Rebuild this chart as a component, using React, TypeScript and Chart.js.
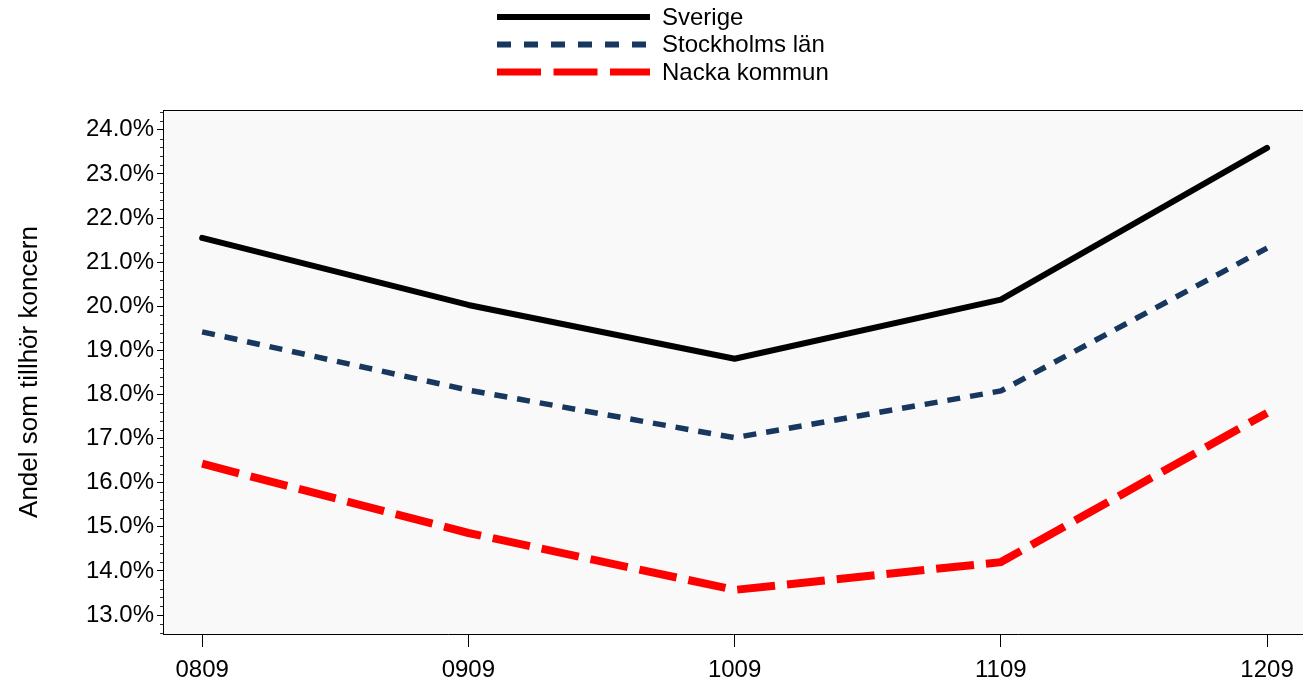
import React, { useEffect, useRef } from "react";
import { Chart, registerables } from "chart.js";

Chart.register(...registerables);

const categories = ["0809", "0909", "1009", "1109", "1209"];
const sverige = [21.55, 20.03, 18.81, 20.15, 23.59];
const stockholm = [19.42, 18.1, 17.02, 18.08, 21.32];
const nacka = [16.43, 14.86, 13.57, 14.2, 17.58];
const yTicks = [13, 14, 15, 16, 17, 18, 19, 20, 21, 22, 23, 24];
const seriesNames = ["Sverige", "Stockholms län", "Nacka kommun"];

const FONT = "'Liberation Sans', Arial, sans-serif";

const bgPlugin = {
  id: "plotBg",
  beforeDraw(chart: any) {
    const { ctx, chartArea } = chart;
    ctx.save();
    ctx.fillStyle = "#f9f9f9";
    ctx.fillRect(chartArea.left, chartArea.top, chartArea.right - chartArea.left, chartArea.bottom - chartArea.top);
    ctx.restore();
  },
  afterDraw(chart: any) {
    const { ctx, chartArea } = chart;
    ctx.save();
    ctx.strokeStyle = "#000";
    ctx.lineWidth = 1;
    ctx.beginPath();
    ctx.moveTo(chartArea.left, chartArea.top + 0.5);
    ctx.lineTo(chartArea.right, chartArea.top + 0.5);
    ctx.stroke();
    const y = chart.scales.y;
    ctx.strokeStyle = "#333";
    for (let i = Math.ceil(y.min * 5); i <= Math.floor(y.max * 5); i++) {
      if (i % 5 === 0) continue;
      const py = Math.round(y.getPixelForValue(i / 5)) + 0.5;
      ctx.beginPath();
      ctx.moveTo(chartArea.left - 3, py);
      ctx.lineTo(chartArea.left, py);
      ctx.stroke();
    }
    const x0 = 497;
    const x1 = 650;
    chart.data.datasets.forEach((ds: any, i: number) => {
      const ly = 17 + 27.5 * i;
      ctx.strokeStyle = ds.borderColor;
      ctx.lineWidth = ds.legendWidth;
      ctx.setLineDash(ds.legendDash || []);
      ctx.lineCap = "butt";
      ctx.beginPath();
      ctx.moveTo(x0, ly);
      ctx.lineTo(x1, ly);
      ctx.stroke();
      ctx.setLineDash([]);
      ctx.fillStyle = "#000";
      ctx.font = `24px ${FONT}`;
      ctx.textBaseline = "middle";
      ctx.textAlign = "left";
      ctx.fillText(ds.label, 662, ly + 1);
    });
    ctx.restore();
  },
};

export default function App() {
  const ref = useRef<HTMLCanvasElement>(null);
  useEffect(() => {
    document.body.style.margin = "0";
    const toPts = (arr: number[]) => arr.map((v, i) => ({ x: i, y: v }));
    const chart = new Chart(ref.current!, {
      type: "line",
      data: {
        datasets: [
          {
            label: seriesNames[0],
            data: toPts(sverige),
            borderColor: "#000000",
            borderWidth: 6,
            borderCapStyle: "round",
            borderJoinStyle: "round",
            pointRadius: 0,
            tension: 0,
            legendDash: [],
            legendWidth: 6,
          } as any,
          {
            label: seriesNames[1],
            data: toPts(stockholm),
            borderColor: "#17375e",
            borderWidth: 5.5,
            borderDash: [13, 10],
            borderCapStyle: "butt",
            pointRadius: 0,
            tension: 0,
            legendDash: [14, 13],
            legendWidth: 6,
          } as any,
          {
            label: seriesNames[2],
            data: toPts(nacka),
            borderColor: "#ff0000",
            borderWidth: 8,
            borderDash: [38, 12],
            borderCapStyle: "butt",
            pointRadius: 0,
            tension: 0,
            legendDash: [44, 12.5],
            legendWidth: 7,
          } as any,
        ],
      },
      options: {
        responsive: false,
        animation: false,
        layout: { padding: { top: 110, left: 0, right: 0, bottom: 0 } },
        plugins: { legend: { display: false }, tooltip: { enabled: false } },
        scales: {
          x: {
            type: "linear",
            min: -0.147,
            max: 4.135,
            afterBuildTicks: (s: any) => {
              s.ticks = categories.map((_, i) => ({ value: i }));
            },
            afterFit: (s: any) => {
              s.height = 53;
            },
            ticks: {
              callback: (v: any) => categories[v] ?? "",
              color: "#000",
              font: { family: FONT, size: 24 },
              padding: 9,
              maxRotation: 0,
            },
            grid: { drawOnChartArea: false, drawTicks: true, tickLength: 13, color: "#000" },
            border: { display: true, color: "#000", width: 1 },
          },
          y: {
            type: "linear",
            min: 12.57,
            max: 24.45,
            afterBuildTicks: (s: any) => {
              s.ticks = yTicks.map((v) => ({ value: v }));
            },
            afterFit: (s: any) => {
              s.width = 163;
            },
            ticks: {
              callback: (v: any) => Number(v).toFixed(1) + "%",
              color: "#000",
              font: { family: FONT, size: 24 },
              padding: 3,
            },
            grid: { drawOnChartArea: false, drawTicks: true, tickLength: 6, color: "#000" },
            border: { display: true, color: "#000", width: 1 },
            title: {
              display: true,
              text: "Andel som tillhör koncern",
              color: "#000",
              font: { family: FONT, size: 26 },
              padding: { top: 14, bottom: 0 },
            },
          },
        },
      },
      plugins: [bgPlugin],
    });
    return () => chart.destroy();
  }, []);
  return <canvas ref={ref} width={1303} height={687} style={{ display: "block" }} />;
}
